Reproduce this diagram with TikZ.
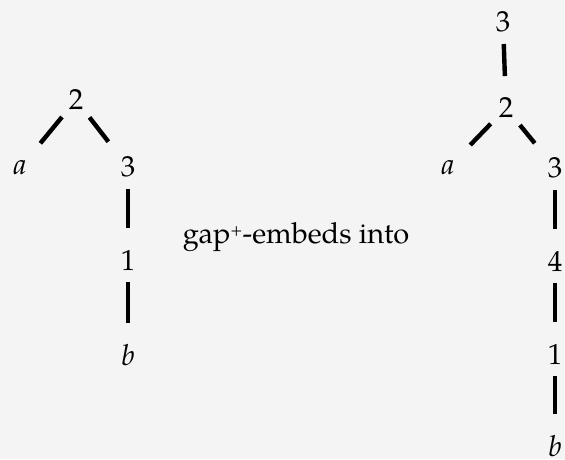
\documentclass[tikz,border=0pt]{standalone}
\usepackage{fontspec}
\setmainfont{TeX Gyre Pagella}
\definecolor{bg}{HTML}{F4F4F4}
\begin{document}
\begin{tikzpicture}[x=1pt,y=-1pt,
  lbl/.style={inner sep=0pt, font=\fontsize{29}{34}\selectfont},
  ilbl/.style={lbl, font=\fontsize{29}{34}\selectfont\itshape},
  edge/.style={line width=4.4pt, shorten <=22pt, shorten >=32pt}]
\fill[bg] (0,0) rectangle (565,459);
\useasboundingbox (0,0) rectangle (565,459);
% left tree
\node[lbl]  (l2) at (76,100) {2};
\node[ilbl] (la) at (20,168) {a};
\node[lbl]  (l3) at (128,167) {3};
\node[lbl]  (l1) at (128,260) {1};
\node[ilbl] (lb) at (128,355) {b};
\draw[edge] (l2.center) -- (la.center);
\draw[edge] (l2.center) -- (l3.center);
\draw[edge] (l3.center) -- (l1.center);
\draw[edge] (l1.center) -- (lb.center);
% middle text
\node[lbl, anchor=base] (txt) at (296,243) {gap\raisebox{8pt}{\fontsize{16}{16}\selectfont +}-embeds into};
% right tree
\node[lbl]  (r3t) at (503,22) {3};
\node[lbl]  (r2) at (506,108) {2};
\node[ilbl] (ra) at (448,168) {a};
\node[lbl]  (r3) at (555,168) {3};
\node[lbl]  (r4) at (555,261) {4};
\node[lbl]  (r1) at (555,354) {1};
\node[ilbl] (rb) at (555,446) {b};
\draw[edge] (r3t.center) -- (r2.center);
\draw[edge] (r2.center) -- (ra.center);
\draw[edge] (r2.center) -- (r3.center);
\draw[edge] (r3.center) -- (r4.center);
\draw[edge] (r4.center) -- (r1.center);
\draw[edge] (r1.center) -- (rb.center);
\end{tikzpicture}
\end{document}
